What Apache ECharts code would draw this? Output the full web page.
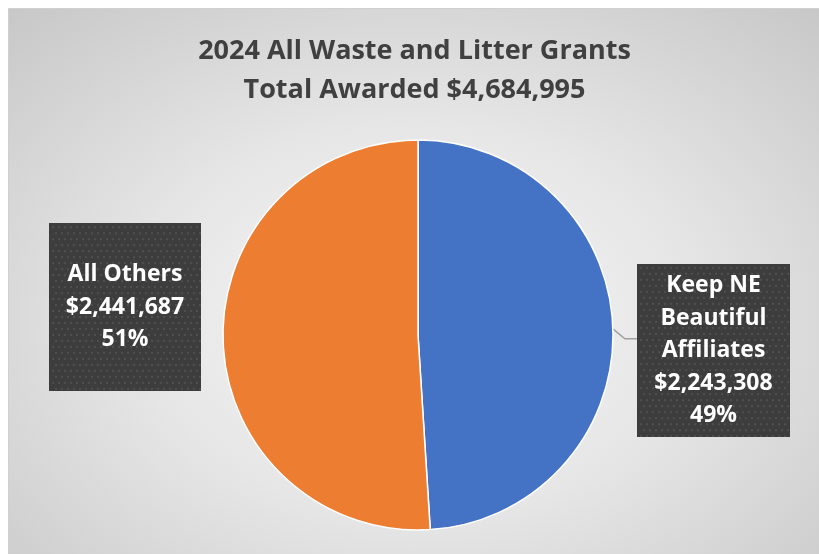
<!DOCTYPE html>
<html>
<head>
<meta charset="utf-8">
<script src="https://cdn.jsdelivr.net/npm/echarts@6/dist/echarts.min.js"></script>
<style>
  html, body { margin: 0; padding: 0; background: #ffffff; width: 819px; height: 554px; overflow: hidden; }
  #chart {
    position: absolute; left: 8px; top: 8px; width: 811px; height: 546px;
    border-left: 1px solid #d0d0d0; border-top: 1px solid #d0d0d0;
    background: radial-gradient(ellipse 75% 80% at 50% 57%, #f7f7f7 0%, #e6e6e6 45%, #c6c6c6 100%);
  }
</style>
</head>
<body>
<div id="chart"></div>
<script>
// ---- data ----
const titleLines = ['2024 All Waste and Litter Grants', 'Total Awarded $4,684,995'];
const categories = ['Keep NE\nBeautiful\nAffiliates', 'All Others'];
const amountLabels = ['$2,243,308', '$2,441,687'];
const shares = [49, 51];            // slice shares as drawn / labelled (%)
const sliceColors = ['#4472C4', '#ED7D31'];

// dotted dark texture for label boxes
function makeTexture(w, h) {
  const c = document.createElement('canvas');
  c.width = w; c.height = h;
  const g = c.getContext('2d');
  g.fillStyle = '#3d3d3d';
  g.fillRect(0, 0, w, h);
  g.fillStyle = '#4f4f4f';
  for (let y = 3, row = 0; y < h; y += 6, row++) {
    for (let x = (row % 2 ? 6 : 3); x < w; x += 6) {
      g.fillRect(x, y, 2, 2);
    }
  }
  return c;
}
const texLeft = makeTexture(152, 168);
const texRight = makeTexture(153, 173);

const chart = echarts.init(document.getElementById('chart'), null, { renderer: 'canvas' });

const labelBase = {
  show: true,
  position: 'outside',
  color: '#ffffff',
  fontFamily: 'Open Sans',
  fontWeight: 'bold',
  fontSize: 23,
  lineHeight: 32.5,
  align: 'center',
  shadowColor: 'rgba(0,0,0,0.45)',
  shadowBlur: 6,
  shadowOffsetX: 3,
  shadowOffsetY: 3,
  formatter: function (p) {
    return p.name + '\n' + amountLabels[p.dataIndex] + '\n' + shares[p.dataIndex] + '%';
  }
};

const boxCenters = [[704.5, 341.5], [116, 298]];
const boxWidths = [153, 152];

const data = categories.map(function (name, i) {
  const item = {
    name: name,
    value: shares[i],
    itemStyle: { color: sliceColors[i] }
  };
  if (i === 0) {
    item.label = Object.assign({}, labelBase, {
      width: boxWidths[0],
      padding: [8, 0, 3, 0],
      backgroundColor: { image: texRight }
    });
    item.labelLine = { show: true, length: 14, length2: 12, lineStyle: { color: '#a0a0a0', width: 1.5 } };
  } else {
    item.label = Object.assign({}, labelBase, {
      width: boxWidths[1],
      padding: [37, 0, 33, 0],
      backgroundColor: { image: texLeft }
    });
    item.labelLine = { show: false };
  }
  return item;
});

chart.setOption({
  backgroundColor: 'transparent',
  animation: false,
  title: {
    text: titleLines.join('\n'),
    left: 'center',
    top: 23,
    padding: 0,
    textStyle: {
      fontFamily: 'Open Sans',
      fontWeight: 'bold',
      fontSize: 27,
      lineHeight: 39,
      color: '#404040'
    }
  },
  series: [{
    type: 'pie',
    center: [409, 326],
    radius: 195,
    startAngle: 90,
    clockwise: true,
    avoidLabelOverlap: false,
    itemStyle: { borderColor: '#ffffff', borderWidth: 1.5 },
    emphasis: { disabled: true },
    data: data,
    labelLayout: function (params) {
      const i = params.dataIndex;
      const c = boxCenters[i];
      const out = { x: c[0], y: c[1], align: 'center', verticalAlign: 'middle' };
      const pts = params.labelLinePoints;
      if (i === 0 && pts && pts.length) {
        const p0 = pts[0];
        const bend = [p0[0] + 12, p0[1] + 10];
        out.labelLinePoints = [p0, bend, [c[0] - boxWidths[i] / 2, bend[1]]];
      }
      return out;
    }
  }]
});
</script>
</body>
</html>
